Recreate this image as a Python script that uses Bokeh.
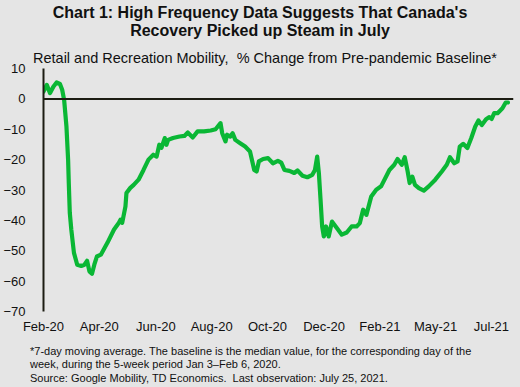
from bokeh.plotting import figure
from bokeh.models import Range1d, FixedTicker, Span, Div
from bokeh.layouts import column
from bokeh.embed import file_html
from bokeh.resources import INLINE

# Days since Feb 15, 2020 and % change from pre-pandemic baseline
days = [0, 3.7, 7.4, 11.1, 14.8, 18.6, 21.1, 23.3, 25.9, 27.8, 28.6, 29.7, 31.4, 34.4,
        38.1, 42.6, 46.3, 49.2, 51.9, 54.8, 57.4, 60.3, 64.8, 72.2, 79.7, 85.2, 87,
        88.9, 92.6, 93.7, 98.1, 101.9, 107.4, 113, 118.6, 124.1, 127.8, 130.8, 133.3,
        137, 138.9, 140.8, 146.3, 153.7, 159.2, 163, 168.6, 174.1, 181.4, 188.9, 194.4,
        200, 201.9, 205.6, 207.4, 211.1, 213.7, 216.7, 222.2, 227.8, 233.3, 235.9,
        238.1, 240.8, 243.3, 248.1, 253.7, 259.2, 264.8, 268.6, 272.2, 277.8, 283.3,
        287, 292.6, 298.1, 303.7, 306.7, 309.2, 311.1, 313, 314.8, 316.7, 319.2, 322.2,
        325.9, 331.4, 337, 342.6, 348.1, 353.7, 357.4, 361.1, 364.8, 370.3, 375.9,
        381.4, 390.8, 396.3, 400, 404.8, 408.1, 411.1, 413.7, 416.7, 419.7, 424.1,
        429.7, 435.2, 442.6, 450, 455.6, 459.2, 464.1, 467.8, 470.3, 474.1, 478.9,
        483.3, 487.8, 491.4, 495.2, 500, 503.7, 506.3, 509.2, 513, 518.5, 522.2, 524.8]
mobility = [2.4, 4.6, 1.9, 4.0, 5.4, 4.9, 3.0, -0.3, -9.0, -20.0, -28.0, -37.5, -43.0, -50.7,
            -54.6, -55.0, -54.6, -53.3, -56.8, -57.6, -54.6, -51.9, -51.3, -47.4, -43.0, -40.8, -39.8,
            -40.8, -35.4, -31.0, -29.3, -28.3, -26.6, -23.4, -20.0, -18.4, -19.0, -15.1, -16.1,
            -12.9, -15.1, -13.5, -12.9, -12.4, -12.2, -11.1, -12.7, -10.7, -10.7, -10.4, -10.0,
            -8.0, -11.3, -14.0, -11.8, -12.4, -11.3, -13.5, -14.6, -15.7, -17.3, -20.6,
            -23.4, -23.9, -20.6, -19.8, -19.5, -21.2, -20.4, -21.0, -23.4, -23.7, -24.4,
            -23.6, -25.3, -25.8, -25.0, -23.4, -19.0, -24.4, -33.2, -42.0, -45.3, -42.0, -45.3,
            -40.4, -42.5, -44.7, -44.0, -42.0, -42.0, -40.9, -36.5, -38.2, -32.1, -29.9,
            -28.8, -23.4, -21.7, -19.8, -21.7, -19.2, -23.4, -27.7, -25.6, -28.3, -29.4,
            -30.2, -28.8, -26.6, -23.9, -21.7, -19.2, -21.2, -20.6, -15.7, -14.8, -16.2,
            -12.9, -9.1, -7.1, -8.6, -6.7, -6.0, -6.6, -4.7, -4.7, -3.1, -1.2, -1.2]

x_labels = ["Feb-20", "Apr-20", "Jun-20", "Aug-20", "Oct-20", "Dec-20", "Feb-21", "May-21", "Jul-21"]
x_label_days = [0, 63, 127, 190, 253, 317, 380, 443, 506]
y_ticks = [10, 0, -10, -20, -30, -40, -50, -60, -70]

title1 = "Chart 1: High Frequency Data Suggests That Canada's"
title2 = "Recovery Picked up Steam in July"
subtitle = "Retail and Recreation Mobility,  % Change from Pre-pandemic Baseline*"
notes = ["*7-day moving average. The baseline is the median value, for the corresponding day of the",
         "week, during the 5-week period Jan 3\u2013Feb 6, 2020.",
         "Source: Google Mobility, TD Economics.  Last observation: July 25, 2021."]

BG = "#e5e5e5"
DARK = "#1c1c12"
FONT = "Liberation Sans"
TXT = "#111111"
W = 520

# heights: top block 68 (overlapping the plot by 8), plot 276, footnotes 51 -> 387 total
p = figure(width=W, height=276, output_backend="svg", toolbar_location=None,
           x_range=Range1d(0, 531), y_range=Range1d(-70, 10),
           background_fill_color=BG, border_fill_color=BG, border_fill_alpha=0,
           outline_line_color=None,
           min_border_left=35, min_border_right=7, min_border_top=8, min_border_bottom=25)
p.grid.visible = False

# y axis
p.yaxis.ticker = FixedTicker(ticks=y_ticks)
p.yaxis.major_tick_line_color = None
p.yaxis.minor_tick_line_color = None
p.yaxis.axis_line_color = DARK
p.yaxis.axis_line_width = 2
p.yaxis.major_label_text_font = FONT
p.yaxis.major_label_text_font_size = "13px"
p.yaxis.major_label_text_color = TXT
p.yaxis.major_label_standoff = 12

# x axis
p.xaxis.ticker = FixedTicker(ticks=x_label_days)
p.xaxis.major_label_overrides = {d: l for d, l in zip(x_label_days, x_labels)}
p.xaxis.major_tick_line_color = None
p.xaxis.minor_tick_line_color = None
p.xaxis.axis_line_color = None
p.xaxis.major_label_text_font = FONT
p.xaxis.major_label_text_font_size = "13px"
p.xaxis.major_label_text_color = TXT
p.xaxis.major_label_standoff = 1

p.add_layout(Span(location=0, dimension="width", line_color=DARK, line_width=2))

p.line(days, mobility, line_color="#0ab735", line_width=4.2, line_join="round", line_cap="round")

# title block (HTML text above the plot)
tstyle = ("position:absolute;left:0;width:%dpx;text-align:center;font-weight:bold;"
          "font-size:16px;line-height:18px;white-space:pre;" % W)
top_html = (
    '<div style="position:relative;width:%dpx;height:68px;font-family:\'%s\';color:%s;">' % (W, FONT, TXT)
    + '<div style="%stop:4px;">%s</div>' % (tstyle, title1)
    + '<div style="%stop:21.5px;">%s</div>' % (tstyle, title2)
    + '<div style="position:absolute;left:33px;top:50px;font-size:14.5px;line-height:16px;'
      'white-space:pre;">%s</div>' % subtitle
    + '</div>'
)
top_div = Div(text=top_html, width=W, height=68, margin=(0, 0, -8, 0))

# footnotes (HTML text below the plot)
bottom_html = (
    '<div style="position:relative;width:%dpx;height:51px;font-family:\'%s\';color:%s;'
    'font-size:11px;line-height:13.5px;">' % (W, FONT, TXT)
    + '<div style="position:absolute;left:30px;top:8.5px;white-space:pre;">'
    + "<br>".join(notes) + '</div></div>'
)
bottom_div = Div(text=bottom_html, width=W, height=51, margin=0)

layout = column(top_div, p, bottom_div, spacing=0)

html = file_html(layout, INLINE)
html = html.replace("</head>", "<style>html, body { background-color: %s; }</style></head>" % BG, 1)
open("out.html", "w").write(html)
